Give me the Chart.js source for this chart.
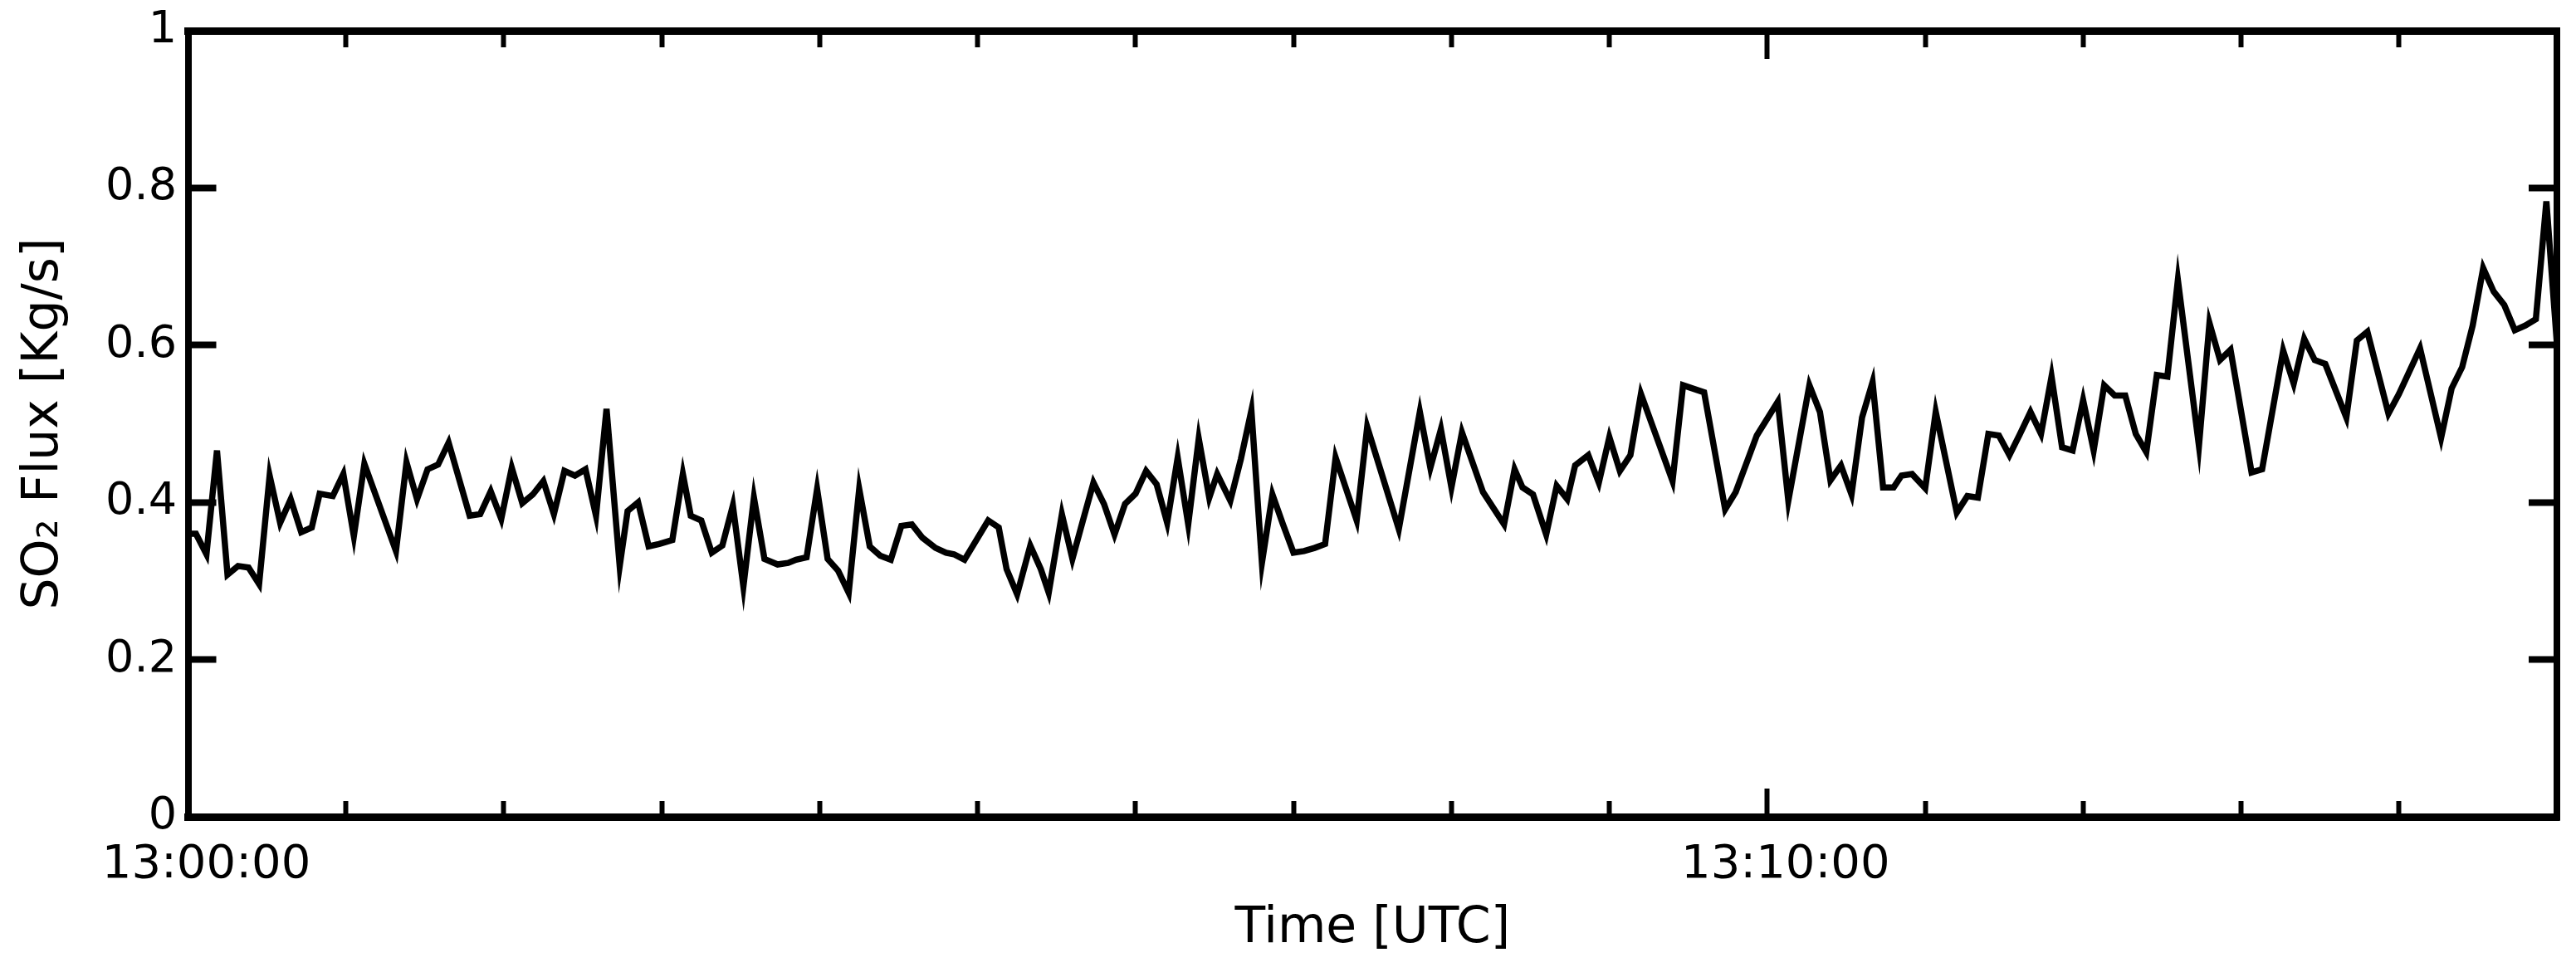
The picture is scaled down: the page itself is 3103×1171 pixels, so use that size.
<!DOCTYPE html>
<html>
<head>
<meta charset="utf-8">
<title>SO2 Flux</title>
<script src="https://cdn.jsdelivr.net/npm/chart.js@4.4.1/dist/chart.umd.min.js"></script>
<style>
  html, body { margin: 0; padding: 0; background: #fff; }
  #wrap { width: 3103px; height: 1171px; }
</style>
</head>
<body>
<div id="wrap"><canvas id="fluxChart" width="3103" height="1171"></canvas></div>
<script>
// Seconds after 13:00:00 UTC
const timeSec = [
  0, 3, 7, 11, 15, 19, 23, 27, 31, 35, 39, 43, 47, 50, 55, 59, 63, 67, 79, 83,
  87, 91, 95, 99, 107, 111, 115, 119, 123, 127, 131, 135, 139, 143, 147,
  151, 155, 159, 164, 167, 171, 175, 179, 184, 188, 191, 195, 199, 203, 207,
  211, 215, 219, 224, 228, 231, 235, 239, 243, 247, 251, 255, 259, 263, 267,
  271, 275, 279, 284, 288, 291, 295,
  304, 308, 311, 315, 320, 324, 327, 332, 336, 340, 344, 348, 352, 356, 360,
  364, 368, 372, 376, 380, 384, 388, 391, 396, 400, 404, 408, 412, 416, 420,
  424, 428, 432, 436, 440, 444, 448,
  460, 468, 472, 476, 480, 484, 492, 500, 504, 507, 511, 516, 520, 524, 527,
  532, 536, 540, 544, 548, 552, 564, 568, 576, 584, 588, 596,
  604, 608, 616, 620, 624, 628, 632, 636, 640, 644, 648, 651, 655, 660, 664,
  672, 676, 680, 684, 688, 692, 696, 700, 704, 708, 712, 716, 720, 724, 728,
  732, 736, 740, 744, 748,
  752, 756, 764, 768, 772, 776, 784, 788, 796, 800, 804, 808, 812, 820, 824,
  828, 836, 840, 848, 856, 860, 864, 868, 872, 876, 880, 884, 888, 892, 896, 900
];

// SO2 flux [Kg/s]
const so2Flux = [
  0.360, 0.360, 0.334, 0.466, 0.308, 0.319, 0.317, 0.296, 0.434, 0.374, 0.404, 0.362, 0.368, 0.411, 0.408, 0.436, 0.357, 0.449, 0.338, 0.451,
  0.404, 0.442, 0.448, 0.476, 0.383, 0.385, 0.414, 0.379, 0.444, 0.399, 0.410, 0.427, 0.385, 0.440, 0.434,
  0.442, 0.383, 0.519, 0.319, 0.389, 0.400, 0.344, 0.347, 0.352, 0.436, 0.383, 0.377, 0.336, 0.345, 0.396,
  0.293, 0.406, 0.328, 0.321, 0.323, 0.327, 0.330, 0.417, 0.328, 0.313, 0.285, 0.417, 0.344, 0.332, 0.327,
  0.370, 0.372, 0.355, 0.342, 0.336, 0.334, 0.327,
  0.377, 0.368, 0.315, 0.283, 0.345, 0.315, 0.285, 0.385, 0.328, 0.377, 0.425, 0.398, 0.359, 0.398, 0.411,
  0.440, 0.423, 0.374, 0.457, 0.372, 0.481, 0.406, 0.436, 0.402, 0.455, 0.517, 0.323, 0.410, 0.372, 0.336,
  0.338, 0.342, 0.347, 0.457, 0.417, 0.377, 0.496,
  0.366, 0.515, 0.444, 0.493, 0.419, 0.489, 0.413, 0.372, 0.442, 0.419, 0.410, 0.359, 0.421, 0.404, 0.447,
  0.460, 0.425, 0.483, 0.440, 0.460, 0.538, 0.427, 0.549, 0.540, 0.391, 0.413, 0.485,
  0.528, 0.402, 0.549, 0.515, 0.428, 0.447, 0.410, 0.508, 0.553, 0.419, 0.419, 0.434, 0.436, 0.418, 0.515,
  0.387, 0.408, 0.406, 0.487, 0.485, 0.460, 0.487, 0.515, 0.487, 0.560, 0.470, 0.466, 0.530, 0.466, 0.549,
  0.536, 0.536, 0.487, 0.464, 0.562,
  0.560, 0.683, 0.472, 0.628, 0.581, 0.594, 0.438, 0.442, 0.593, 0.551, 0.608, 0.581, 0.576, 0.508, 0.606,
  0.617, 0.513, 0.538, 0.596, 0.482, 0.545, 0.572, 0.625, 0.698, 0.668, 0.651, 0.619, 0.625, 0.633, 0.783, 0.602
];

const xTickValues = [0, 600];
const xTickLabels = ['13:00:00', '13:10:00'];
const yTickLabels = ['0', '0.2', '0.4', '0.6', '0.8', '1'];

const FONT = 'DejaVu Sans';
const INK = '#000';
const TICK_LEN = -34;   // negative = ticks point into the plot

const isMajor = v => xTickValues.includes(v);

// short minor ticks on the time axes, done with a dash pattern
const bottomDash = c => (c.tick && isMajor(c.tick.value)) ? [] : [24, 1000];
const topDash = c => (c.tick && isMajor(c.tick.value)) ? [] : [0, 14, 24, 1000];

// keep the plot box where the reference has it
const noPadding = s => {
  s.paddingTop = 0;
  s.paddingBottom = 0;
  s.paddingLeft = 0;
  s.paddingRight = 0;
};

const timeAxis = (position, dash) => ({
  type: 'linear',
  position: position,
  min: 0,
  max: 900,
  border: { display: true, color: INK, width: 9, z: 1 },
  grid: {
    drawOnChartArea: false,
    drawTicks: true,
    tickLength: TICK_LEN,
    tickColor: INK,
    tickWidth: 6,
    tickBorderDash: dash,
    z: 1
  },
  ticks: { stepSize: 60, maxTicksLimit: 100, autoSkip: false, maxRotation: 0, minRotation: 0 }
});

const fluxAxis = position => ({
  type: 'linear',
  position: position,
  min: 0,
  max: 1,
  border: { display: true, color: INK, width: 8, z: 1 },
  grid: {
    drawOnChartArea: false,
    drawTicks: true,
    tickLength: TICK_LEN,
    tickColor: INK,
    tickWidth: 8,
    z: 1
  },
  ticks: { stepSize: 0.2, maxTicksLimit: 100 }
});

const x = timeAxis('bottom', bottomDash);
x.ticks.display = true;
x.ticks.color = INK;
x.ticks.font = { family: FONT, size: 56 };
x.ticks.padding = 59;
x.ticks.labelOffset = 22;
x.ticks.callback = v => {
  const k = xTickValues.indexOf(v);
  return k >= 0 ? xTickLabels[k] : '';
};
x.title = {
  display: true,
  text: 'Time [UTC]',
  color: INK,
  font: { family: FONT, size: 60, lineHeight: 1 },
  padding: { top: 0, bottom: 22 }
};
x.afterFit = s => { s.height = 187; noPadding(s); };

const x2 = timeAxis('top', topDash);
x2.ticks.display = false;
x2.afterFit = s => { s.height = 0; noPadding(s); };

const y = fluxAxis('left');
y.ticks.color = INK;
y.ticks.font = { family: FONT, size: 54 };
y.ticks.padding = 47.5;
y.ticks.callback = (v, i) => yTickLabels[i];
y.title = {
  display: true,
  text: 'SO\u2082 Flux [Kg/s]',
  color: INK,
  font: { family: FONT, size: 60, lineHeight: 1 },
  padding: { top: 23, bottom: 0 }
};
y.afterFit = s => { s.width = 226.5; noPadding(s); };

const y2 = fluxAxis('right');
y2.ticks.display = false;
y2.afterFit = s => { s.width = 0; noPadding(s); };

new Chart(document.getElementById('fluxChart'), {
  type: 'line',
  data: {
    datasets: [{
      label: 'SO2 Flux',
      data: timeSec.map((t, i) => ({ x: t, y: so2Flux[i] })),
      borderColor: INK,
      borderWidth: 7.5,
      pointRadius: 0,
      tension: 0,
      fill: false
    }]
  },
  options: {
    responsive: false,
    animation: false,
    layout: { padding: { top: 37, right: 23, bottom: 0, left: 0 } },
    plugins: { legend: { display: false }, tooltip: { enabled: false } },
    scales: { x: x, x2: x2, y: y, y2: y2 }
  }
});
</script>
</body>
</html>
